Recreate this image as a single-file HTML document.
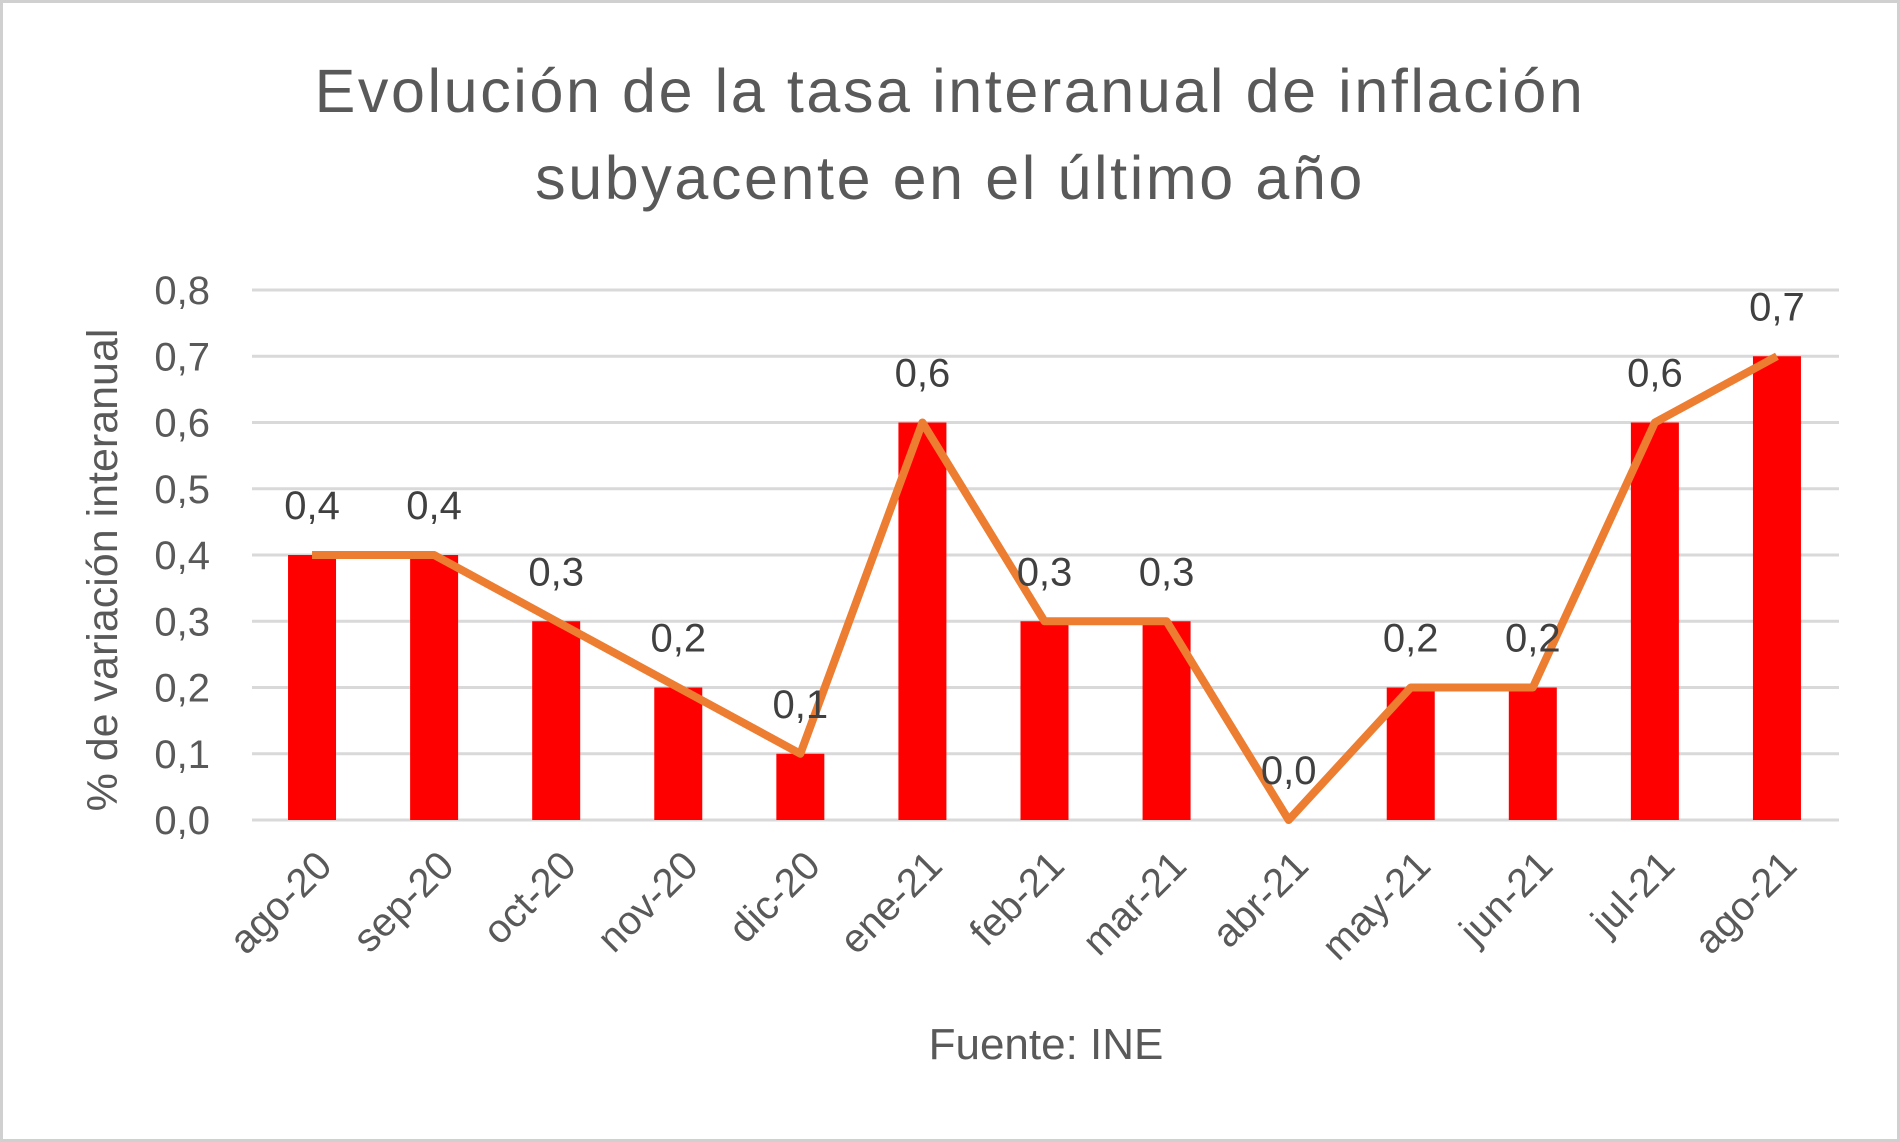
<!DOCTYPE html>
<html><head><meta charset="utf-8"><style>
html,body{margin:0;padding:0;background:#fff}
svg{display:block;font-family:"Liberation Sans",sans-serif}
</style></head><body>
<svg id="c" width="1900" height="1142" viewBox="0 0 1900 1142">
<rect x="1.5" y="1.5" width="1897" height="1139" fill="#fff" stroke="#d0d0d0" stroke-width="3"/>
<text x="950" y="112" text-anchor="middle" font-size="61" letter-spacing="2.6" fill="#595959">Evolución de la tasa interanual de inflación</text>
<text x="950" y="199" text-anchor="middle" font-size="61" letter-spacing="2.6" fill="#595959">subyacente en el último año</text>
<text transform="translate(117,570) rotate(-90)" text-anchor="middle" font-size="43" fill="#595959">% de variación interanual</text>
<text x="1046" y="1059" text-anchor="middle" font-size="44" fill="#595959">Fuente: INE</text>
<g id="grid"></g><g id="bars"></g><g id="line"></g><g id="labels"></g>
</svg>
<script>
const categories=["ago-20","sep-20","oct-20","nov-20","dic-20","ene-21","feb-21","mar-21","abr-21","may-21","jun-21","jul-21","ago-21"];
const barValues=[0.4,0.4,0.3,0.2,0.1,0.6,0.3,0.3,0.0,0.2,0.2,0.6,0.7];
const lineValues=[0.4,0.4,0.3,0.2,0.1,0.6,0.3,0.3,0.0,0.2,0.2,0.6,0.7];
const yTicks=[0,0.1,0.2,0.3,0.4,0.5,0.6,0.7,0.8];
const NS="http://www.w3.org/2000/svg";
const x0=252,x1=1839,y0=820,y1=290,yMax=0.8;
const band=(x1-x0)/categories.length;
const xs=i=>x0+band*(i+0.5)-1;
const ys=v=>y0-(v/yMax)*(y0-y1);
const fmt=v=>v.toFixed(1).replace('.',',');
function mk(t,a,p){const e=document.createElementNS(NS,t);for(const k in a)e.setAttribute(k,a[k]);p.appendChild(e);return e;}
const g=document.getElementById('grid'),b=document.getElementById('bars'),l=document.getElementById('line'),lb=document.getElementById('labels');
yTicks.forEach(v=>{
 const ln=mk('line',{x1:x0,x2:x1,y1:ys(v),y2:ys(v),stroke:'#d9d9d9','stroke-width':3},g);
 
 
 const t=mk('text',{x:210,y:ys(v)+14,'text-anchor':'end','font-size':40,fill:'#595959'},g);
 t.textContent=fmt(v);
 
 
});
barValues.forEach((v,i)=>{
 const r=mk('rect',{x:xs(i)-24,y:ys(v),width:48,height:y0-ys(v),fill:'#ff0000'},b);
 
 
 const t=mk('text',{'text-anchor':'end','font-size':40,fill:'#595959',transform:`translate(${xs(i)+22},${y0+48}) rotate(-45)`},lb);
 t.textContent=categories[i];
 
 
});
const pl=mk('polyline',{points:lineValues.map((v,i)=>xs(i)+','+ys(v)).join(' '),fill:'none',stroke:'#ed7d31','stroke-width':8,'stroke-linejoin':'round'},l);


lineValues.forEach((v,i)=>{
 const t=mk('text',{x:xs(i),y:ys(v)-36,'text-anchor':'middle','font-size':40,fill:'#404040'},lb);
 t.textContent=fmt(v);
 
 
});
</script>
</body></html>
